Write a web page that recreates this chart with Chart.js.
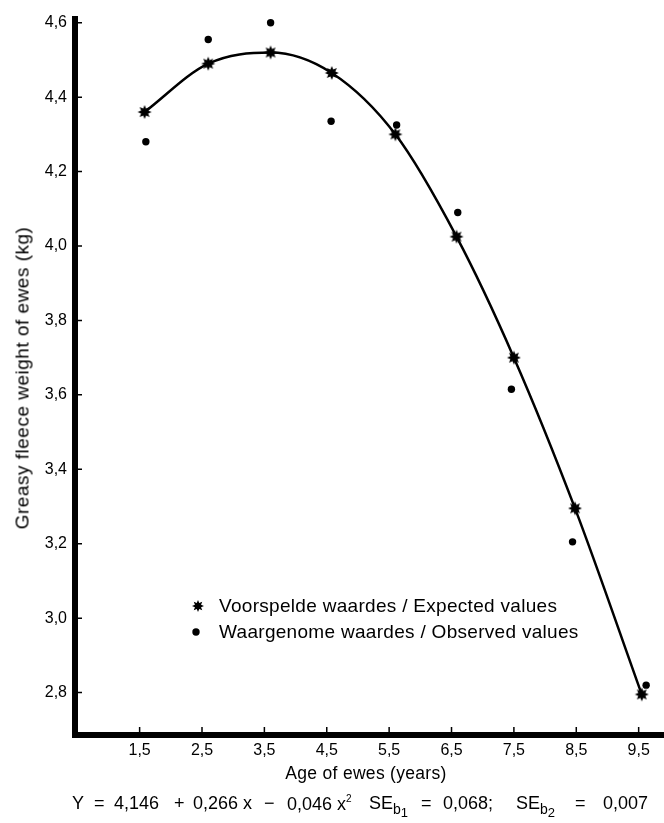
<!DOCTYPE html>
<html>
<head>
<meta charset="utf-8">
<script src="https://cdn.jsdelivr.net/npm/chart.js@4.4.1/dist/chart.umd.min.js"></script>
<style>
  body { margin: 0; background: #fff; }
  #wrap { position: relative; width: 664px; height: 823px; font-family: "Liberation Sans", Arial, sans-serif; color: #000; }
  #chart { position: absolute; left: 0; top: 0; }
  .txt { position: absolute; white-space: nowrap; line-height: 1; }
  #ytitle { left: 22px; top: 378px; font-size: 19px; letter-spacing: 0.5px; transform: translate(-50%, -50%) rotate(-90deg); }
  #xtitle { left: 366px; top: 774px; font-size: 17.5px; letter-spacing: 0.3px; transform: translate(-50%, -50%); }
  .leg { font-size: 19px; letter-spacing: 0.3px; }
  .leg canvas { position: absolute; left: -28px; top: 50%; transform: translateY(-50%); }
  .eq { font-size: 18px; top: 794px; }
  .eq sub { font-size: 14px; position: relative; top: 5px; vertical-align: baseline; }
  .eq sub sub { font-size: 13px; top: 3px; }
  .eq sup { font-size: 10px; vertical-align: 8px; }
</style>
</head>
<body>
<div id="wrap">
  <canvas id="chart" width="664" height="823"></canvas>
  <div class="txt" id="ytitle">Greasy fleece weight of ewes (kg)</div>
  <div class="txt" id="xtitle">Age of ewes (years)</div>
  <div class="txt leg" id="legExp" style="left:219px; top:596px">Voorspelde waardes / Expected values</div>
  <div class="txt leg" id="legObs" style="left:219px; top:622px">Waargenome waardes / Observed values</div>
  <div class="txt eq" style="left:72px">Y</div>
  <div class="txt eq" style="left:94px">=</div>
  <div class="txt eq" style="left:114px">4,146</div>
  <div class="txt eq" style="left:174px">+</div>
  <div class="txt eq" style="left:193px">0,266 x</div>
  <div class="txt eq" style="left:264px">−</div>
  <div class="txt eq" style="left:287px">0,046 x<sup>2</sup></div>
  <div class="txt eq" style="left:369px">SE<sub>b<sub>1</sub></sub></div>
  <div class="txt eq" style="left:421px">=</div>
  <div class="txt eq" style="left:443px">0,068;</div>
  <div class="txt eq" style="left:516px">SE<sub>b<sub>2</sub></sub></div>
  <div class="txt eq" style="left:575px">=</div>
  <div class="txt eq" style="left:603px">0,007</div>
</div>
<script>
const ageTicks = [1.5, 2.5, 3.5, 4.5, 5.5, 6.5, 7.5, 8.5, 9.5];
const weightTicks = [2.8, 3.0, 3.2, 3.4, 3.6, 3.8, 4.0, 4.2, 4.4, 4.6];

// expected (fitted) values
const ageExpected = [1.58, 2.6, 3.6, 4.58, 5.6, 6.58, 7.5, 8.48, 9.55];
const weightExpected = [4.36, 4.49, 4.52, 4.465, 4.30, 4.025, 3.70, 3.295, 2.795];

// observed values
const ageObserved = [1.6, 2.6, 3.6, 4.57, 5.62, 6.6, 7.46, 8.44, 9.62];
const weightObserved = [4.28, 4.555, 4.60, 4.335, 4.325, 4.09, 3.615, 3.205, 2.82];

function makeStar(r) {
    const c = document.createElement("canvas");
    const s = Math.ceil(r * 2 + 2);
    c.width = s;
    c.height = s;
    const ctx = c.getContext("2d");
    ctx.translate(s / 2, s / 2);
    ctx.beginPath();
    for (let i = 0; i < 16; i++) {
        const a = (i * Math.PI) / 8 - Math.PI / 2;
        const rr = i % 2 ? r * 0.55 : r;
        ctx.lineTo(rr * Math.cos(a), rr * Math.sin(a));
    }
    ctx.closePath();
    ctx.fillStyle = "#000";
    ctx.fill();
    return c;
}

const star = makeStar(7);

// legend markers
document.getElementById("legExp").appendChild(makeStar(6));
const legDot = document.createElement("canvas");
legDot.width = 10;
legDot.height = 10;
const dctx = legDot.getContext("2d");
dctx.beginPath();
dctx.arc(5, 5, 3.7, 0, Math.PI * 2);
dctx.fill();
document.getElementById("legObs").appendChild(legDot);

const comma = (v) => v.toFixed(1).replace(".", ",");

const axesPlugin = {
    id: "axesPlugin",
    afterDraw(chart) {
        const ctx = chart.ctx;
        const area = chart.chartArea;
        const xs = chart.scales.x;
        const ys = chart.scales.y;
        ctx.save();
        ctx.strokeStyle = "#000";
        ctx.lineWidth = 6;
        ctx.beginPath();
        ctx.moveTo(area.left, area.top);
        ctx.lineTo(area.left, area.bottom + 3);
        ctx.moveTo(area.left - 3, area.bottom);
        ctx.lineTo(chart.width, area.bottom);
        ctx.stroke();
        ctx.lineWidth = 1.5;
        ctx.beginPath();
        weightTicks.forEach(function (v) {
            const y = ys.getPixelForValue(v);
            ctx.moveTo(area.left + 3, y);
            ctx.lineTo(area.left + 7, y);
        });
        ageTicks.forEach(function (v) {
            const x = xs.getPixelForValue(v);
            ctx.moveTo(x, area.bottom - 3);
            ctx.lineTo(x, area.bottom - 8);
        });
        ctx.stroke();
        ctx.restore();
    },
};

const chartElement = document.getElementById("chart").getContext("2d");

new Chart(chartElement, {
    type: "scatter",
    data: {
        datasets: [
            {
                label: "Expected values",
                data: ageExpected.map((a, i) => ({ x: a, y: weightExpected[i] })),
                showLine: true,
                borderColor: "#000",
                borderWidth: 2.5,
                cubicInterpolationMode: "monotone",
                pointStyle: star,
                pointRadius: 7,
                backgroundColor: "#000",
            },
            {
                label: "Observed values",
                data: ageObserved.map((a, i) => ({ x: a, y: weightObserved[i] })),
                showLine: false,
                pointStyle: "circle",
                pointRadius: 3.7,
                borderWidth: 0,
                backgroundColor: "#000",
            },
        ],
    },
    options: {
        responsive: false,
        animation: false,
        layout: { padding: { top: 16, left: 0, right: 0, bottom: 0 } },
        plugins: {
            legend: { display: false },
            tooltip: { enabled: false },
        },
        scales: {
            x: {
                type: "linear",
                min: 0.464,
                max: 9.754,
                afterFit: (scale) => {
                    scale.height = 88;
                    scale.paddingLeft = 0;
                    scale.paddingRight = 0;
                },
                afterBuildTicks: (scale) => { scale.ticks = ageTicks.map((v) => ({ value: v })); },
                grid: { display: false, drawTicks: false },
                border: { display: false },
                ticks: {
                    callback: comma,
                    color: "#000",
                    padding: 6,
                    maxRotation: 0,
                    autoSkip: false,
                    font: { family: "'Liberation Sans', Arial", size: 16 },
                },
            },
            y: {
                type: "linear",
                min: 2.686,
                max: 4.618,
                afterFit: (scale) => {
                    scale.width = 75;
                    scale.paddingTop = 0;
                    scale.paddingBottom = 0;
                },
                afterBuildTicks: (scale) => { scale.ticks = weightTicks.map((v) => ({ value: v })); },
                grid: { display: false, drawTicks: false },
                border: { display: false },
                ticks: {
                    callback: comma,
                    color: "#000",
                    padding: 8,
                    autoSkip: false,
                    font: { family: "'Liberation Sans', Arial", size: 16 },
                },
            },
        },
    },
    plugins: [axesPlugin],
});
</script>
</body>
</html>
